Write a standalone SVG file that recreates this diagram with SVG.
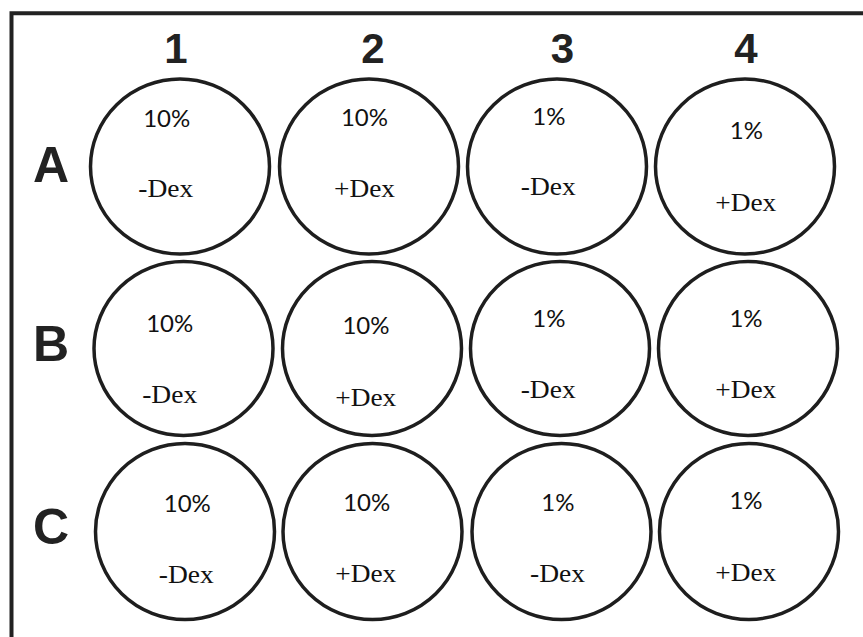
<svg xmlns="http://www.w3.org/2000/svg" width="863" height="637" viewBox="0 0 863 637">
<style>
.well{fill:#fff;stroke:#1e1e1e;stroke-width:3.5}
.hdr{font-family:"Liberation Sans",Arial,sans-serif;font-weight:bold;fill:#222;text-anchor:middle}
.col{font-size:42px}
.row{font-size:50px}
.pct{font-family:Lato,"Open Sans",sans-serif;font-size:24px;fill:#111;text-anchor:middle}
.dex{font-family:"Liberation Serif","Times New Roman",serif;font-size:26px;fill:#111;text-anchor:middle}
</style>
<rect width="863" height="637" fill="#fff"/>
<g id="frame" fill="none" stroke="#222" stroke-width="4">
<path d="M11.5 637 V13.3 H863"/>
</g>
<g id="headers">
<text class="hdr col" x="176" y="63">1</text>
<text class="hdr col" x="373" y="63">2</text>
<text class="hdr col" x="562.5" y="63">3</text>
<text class="hdr col" x="746" y="63">4</text>
<text class="hdr row" x="51" y="181.7">A</text>
<text class="hdr row" x="51" y="360.7">B</text>
<text class="hdr row" x="51" y="544">C</text>
</g>
<g id="A1"><ellipse class="well" cx="180" cy="166.5" rx="89.5" ry="87.5"/><text class="pct" x="166.7" y="126.7">10%</text><text class="dex" x="165.8" y="197.3" textLength="55" lengthAdjust="spacingAndGlyphs">-Dex</text></g>
<g id="A2"><ellipse class="well" cx="369" cy="166.5" rx="89.5" ry="87.5"/><text class="pct" x="364.5" y="126">10%</text><text class="dex" x="364.5" y="197.3" textLength="61" lengthAdjust="spacingAndGlyphs">+Dex</text></g>
<g id="A3"><ellipse class="well" cx="557" cy="166.5" rx="89.5" ry="87.5"/><text class="pct" x="548.8" y="125">1%</text><text class="dex" x="548.3" y="195" textLength="55" lengthAdjust="spacingAndGlyphs">-Dex</text></g>
<g id="A4"><ellipse class="well" cx="745" cy="166.5" rx="89.5" ry="87.5"/><text class="pct" x="746.3" y="139.3">1%</text><text class="dex" x="745.8" y="210.7" textLength="61" lengthAdjust="spacingAndGlyphs">+Dex</text></g>
<g id="B1"><ellipse class="well" cx="183.5" cy="348.5" rx="89.5" ry="87"/><text class="pct" x="169.7" y="331.7">10%</text><text class="dex" x="169.7" y="403.3" textLength="55" lengthAdjust="spacingAndGlyphs">-Dex</text></g>
<g id="B2"><ellipse class="well" cx="372" cy="348.5" rx="89.5" ry="87"/><text class="pct" x="366" y="334">10%</text><text class="dex" x="365.8" y="405.7" textLength="61" lengthAdjust="spacingAndGlyphs">+Dex</text></g>
<g id="B3"><ellipse class="well" cx="560" cy="348.5" rx="89.5" ry="87"/><text class="pct" x="548.8" y="327.3">1%</text><text class="dex" x="548.2" y="397.7" textLength="55" lengthAdjust="spacingAndGlyphs">-Dex</text></g>
<g id="B4"><ellipse class="well" cx="748" cy="348.5" rx="89.5" ry="87"/><text class="pct" x="746" y="327.3">1%</text><text class="dex" x="745.8" y="397.7" textLength="61" lengthAdjust="spacingAndGlyphs">+Dex</text></g>
<g id="C1"><ellipse class="well" cx="185" cy="531.5" rx="89.5" ry="88"/><text class="pct" x="187.3" y="511.7">10%</text><text class="dex" x="186.3" y="582.7" textLength="55" lengthAdjust="spacingAndGlyphs">-Dex</text></g>
<g id="C2"><ellipse class="well" cx="372.5" cy="531.5" rx="89.5" ry="88"/><text class="pct" x="366.7" y="510.7">10%</text><text class="dex" x="365.8" y="581.7" textLength="61" lengthAdjust="spacingAndGlyphs">+Dex</text></g>
<g id="C3"><ellipse class="well" cx="561.5" cy="531.5" rx="89.5" ry="88"/><text class="pct" x="557.8" y="510.7">1%</text><text class="dex" x="557.5" y="581.7" textLength="55" lengthAdjust="spacingAndGlyphs">-Dex</text></g>
<g id="C4"><ellipse class="well" cx="749" cy="531.5" rx="89.5" ry="88"/><text class="pct" x="746" y="509.3">1%</text><text class="dex" x="745.8" y="581" textLength="61" lengthAdjust="spacingAndGlyphs">+Dex</text></g>
<g id="connectors"></g>
</svg>
